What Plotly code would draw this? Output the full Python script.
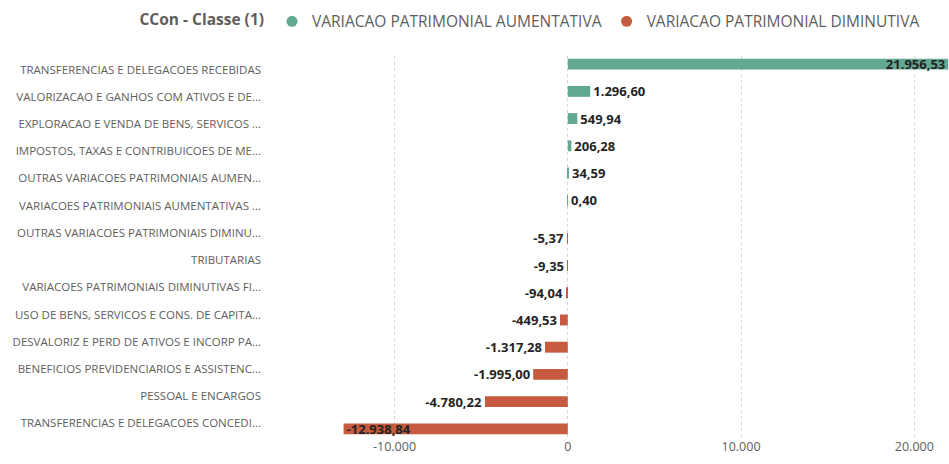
import plotly.graph_objects as go

categories = [
    "TRANSFERENCIAS E DELEGACOES RECEBIDAS",
    "VALORIZACAO E GANHOS COM ATIVOS E DE...",
    "EXPLORACAO E VENDA DE BENS, SERVICOS ...",
    "IMPOSTOS, TAXAS E CONTRIBUICOES DE ME...",
    "OUTRAS VARIACOES PATRIMONIAIS AUMEN...",
    "VARIACOES PATRIMONIAIS AUMENTATIVAS ...",
    "OUTRAS VARIACOES PATRIMONIAIS DIMINU...",
    "TRIBUTARIAS",
    "VARIACOES PATRIMONIAIS DIMINUTIVAS FI...",
    "USO DE BENS, SERVICOS E CONS. DE CAPITA...",
    "DESVALORIZ E PERD DE ATIVOS E INCORP PA...",
    "BENEFICIOS PREVIDENCIARIOS E ASSISTENC...",
    "PESSOAL E ENCARGOS",
    "TRANSFERENCIAS E DELEGACOES CONCEDI...",
]
aumentativa = [21956.53, 1296.60, 549.94, 206.28, 34.59, 0.40,
               None, None, None, None, None, None, None, None]
diminutiva = [None, None, None, None, None, None,
              -5.37, -9.35, -94.04, -449.53, -1317.28, -1995.00, -4780.22, -12938.84]
series_names = ["VARIACAO PATRIMONIAL AUMENTATIVA", "VARIACAO PATRIMONIAL DIMINUTIVA"]
legend_title = "CCon - Classe (1)"
tick_values = [-10000, 0, 10000, 20000]
tick_labels = ["-10.000", "0", "10.000", "20.000"]

COL_A = "#62A893"
COL_D = "#C65B3F"
LABEL_FONT = "Open Sans, Lato, sans-serif"


def fmt(v):
    if v is None:
        return ""
    s = f"{v:,.2f}"
    return s.replace(",", "X").replace(".", ",").replace("X", ".")


def positions(vals):
    valid = [abs(v) for v in vals if v is not None]
    m = max(valid)
    return ["inside" if (v is not None and abs(v) == m) else "outside" for v in vals]


fig = go.Figure()
for vals, name, col in [(aumentativa, series_names[0], COL_A), (diminutiva, series_names[1], COL_D)]:
    fig.add_trace(go.Bar(
        y=categories, x=vals, orientation="h", name=name,
        marker=dict(color=col, line=dict(width=0)),
        text=[fmt(v) for v in vals],
        textposition=positions(vals),
        insidetextanchor="end",
        constraintext="none",
        textangle=0,
        textfont=dict(family=LABEL_FONT, size=13, color="#252423", weight="bold"),
        insidetextfont=dict(family=LABEL_FONT, size=13, color="#252423", weight="bold"),
        cliponaxis=False,
        showlegend=False,
        hoverinfo="x+y",
    ))
    # legend entry with circle marker
    fig.add_trace(go.Scatter(
        x=[None], y=[None], mode="markers", name=name,
        marker=dict(color=col, size=11, symbol="circle"),
        showlegend=True,
    ))

fig.update_layout(
    width=949, height=464,
    margin=dict(l=268, r=0, t=56, b=27),
    paper_bgcolor="white", plot_bgcolor="white",
    barmode="group", bargap=0.2, bargroupgap=0,
    uniformtext=dict(mode=False),
    font=dict(family=LABEL_FONT, color="#605E5C"),
    legend=dict(
        orientation="h", x=0.964, xanchor="right", y=1.09, yanchor="middle",
        title=dict(text="<b>" + legend_title + "</b>", side="left",
                   font=dict(size=15.5, color="#605E5C", family=LABEL_FONT)),
        font=dict(size=15.5, color="#605E5C", family=LABEL_FONT),
        itemwidth=30, tracegroupgap=0,
    ),
    xaxis=dict(
        range=[-17300, 22000], tickvals=tick_values, ticktext=tick_labels,
        showgrid=True, gridcolor="#D6D6D6", griddash="dot", gridwidth=1,
        zeroline=False, showline=False, automargin=False,
        tickfont=dict(size=12.5, color="#605E5C"), fixedrange=True,
    ),
    yaxis=dict(
        type="category", categoryorder="array", categoryarray=categories,
        range=[13.5, -0.5], showgrid=False, zeroline=False, showline=False,
        automargin=False, ticklabelstandoff=6,
        tickfont=dict(size=11.5, color="#605E5C"), ticks="", fixedrange=True,
    ),
)

fig.write_html(
    "out.html",
    config={"displayModeBar": False},
    post_script="document.body.style.margin='0';document.body.style.padding='0';",
)
